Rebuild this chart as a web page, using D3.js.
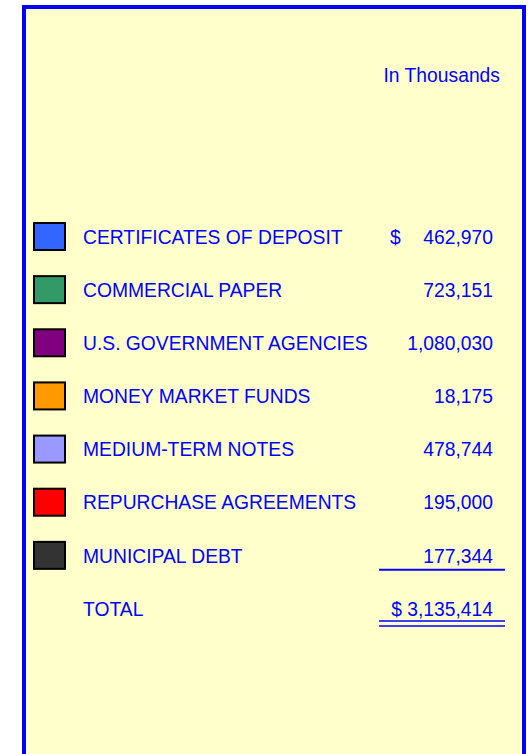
<!DOCTYPE html>
<html>
<head>
<meta charset="utf-8">
<script src="https://cdn.jsdelivr.net/npm/d3@7"></script>
<style>
  body { margin: 0; background: #ffffff; }
  svg { display: block; font-family: "Liberation Sans", Arial, sans-serif; }
</style>
</head>
<body>
<div id="chart"></div>
<script>

// portfolio holdings, in thousands
var categories = [
    'CERTIFICATES OF DEPOSIT',
    'COMMERCIAL PAPER',
    'U.S. GOVERNMENT AGENCIES',
    'MONEY MARKET FUNDS',
    'MEDIUM-TERM NOTES',
    'REPURCHASE AGREEMENTS',
    'MUNICIPAL DEBT'
];
var values = [ 462970, 723151, 1080030, 18175, 478744, 195000, 177344 ];
var colors = [ '#3366ff', '#339966', '#800080', '#ff9900', '#9999ff', '#ff0000', '#333333' ];
var unitLabel = 'In Thousands';
var totalLabel = 'TOTAL';

var width = 529,
    height = 754;

var blue = '#0000ff';
var fontSize = '19.3px';
var fmt = d3.format(',');
var total = d3.sum( values );

var svg = d3.select('#chart').append('svg')
    .attr('width', width)
    .attr('height', height);

// panel
svg.append('rect')
    .attr('x', 24)
    .attr('y', 7)
    .attr('width', 500)
    .attr('height', height + 20)
    .style('fill', '#ffffcc')
    .style('stroke', blue)
    .style('stroke-width', 4);

svg.append('text')
    .attr('x', 500)
    .attr('y', 82)
    .attr('text-anchor', 'end')
    .style('font-size', fontSize)
    .style('fill', blue)
    .text( unitLabel );

var y = d3.scalePoint()
    .domain( categories.concat([ totalLabel ]) )
    .range([ 237, 609 ]);

var valueRight = 493;

var rows = svg.selectAll('.row')
    .data( categories )
    .enter().append('g')
    .attr('class', 'row')
    .attr('transform', function ( d ) { return 'translate(0,' + y( d ) + ')'; });

rows.append('rect')
    .attr('x', 34)
    .attr('y', -14)
    .attr('width', 31)
    .attr('height', 27)
    .style('fill', function ( d, i ) { return colors[ i ]; })
    .style('stroke', '#000')
    .style('stroke-width', 2);

rows.append('text')
    .attr('x', 83)
    .attr('dy', '0.35em')
    .style('font-size', fontSize)
    .style('fill', blue)
    .text( function ( d ) { return d; });

rows.append('text')
    .attr('x', valueRight)
    .attr('dy', '0.35em')
    .attr('text-anchor', 'end')
    .style('font-size', fontSize)
    .style('fill', blue)
    .text( function ( d, i ) { return fmt( values[ i ] ); });

// dollar sign on first line
svg.append('text')
    .attr('x', 390)
    .attr('y', y( categories[ 0 ] ))
    .attr('dy', '0.35em')
    .style('font-size', fontSize)
    .style('fill', blue)
    .text('$');

// total row
var ty = y( totalLabel );

svg.append('text')
    .attr('x', 83)
    .attr('y', ty)
    .attr('dy', '0.35em')
    .style('font-size', fontSize)
    .style('fill', blue)
    .text( totalLabel );

svg.append('text')
    .attr('x', valueRight)
    .attr('y', ty)
    .attr('dy', '0.35em')
    .attr('text-anchor', 'end')
    .style('font-size', fontSize)
    .style('fill', blue)
    .text('$ ' + fmt( total ));

// single rule above total, double rule below
var lastY = y( categories[ categories.length - 1 ] );

svg.append('line')
    .attr('x1', 379).attr('x2', 505)
    .attr('y1', lastY + 14).attr('y2', lastY + 14)
    .style('stroke', blue)
    .style('stroke-width', 2);

[ ty + 12, ty + 17 ].forEach( function ( ly ) {
    svg.append('line')
        .attr('x1', 379).attr('x2', 505)
        .attr('y1', ly).attr('y2', ly)
        .style('stroke', blue)
        .style('stroke-width', 1.5);
});

</script>
</body>
</html>
